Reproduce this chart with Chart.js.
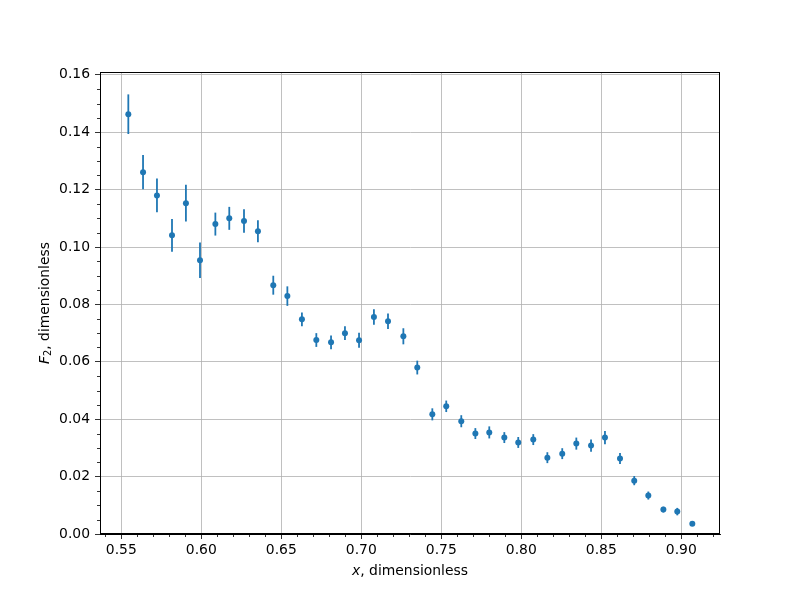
<!DOCTYPE html>
<html>
<head>
<meta charset="utf-8">
<script src="https://cdn.jsdelivr.net/npm/chart.js@4.4.0/dist/chart.umd.min.js"></script>
<style>
  body { margin: 0; background: #fff; }
  canvas { display: block; }
</style>
</head>
<body>
<canvas id="myChart" width="800" height="600"></canvas>
<script>
// x values of the measured points
let xVals = [
    0.5544, 0.5636, 0.5723, 0.5817, 0.5904, 0.5992, 0.6088, 0.6175, 0.6267, 0.6354,
    0.6450, 0.6538, 0.6629, 0.6719, 0.6811, 0.6898, 0.6986, 0.7079, 0.7167, 0.7263,
    0.7350, 0.7444, 0.7531, 0.7625, 0.7713, 0.7800, 0.7894, 0.7981, 0.8075, 0.8163,
    0.8256, 0.8344, 0.8436, 0.8523, 0.8617, 0.8706, 0.8794, 0.8888, 0.8975, 0.9069
];

// F2 values
let f2Vals = [
    0.1463, 0.1261, 0.1180, 0.1041, 0.1153, 0.0954, 0.1080, 0.1100, 0.1091, 0.1055,
    0.0867, 0.0829, 0.0748, 0.0676, 0.0668, 0.0700, 0.0675, 0.0756, 0.0741, 0.0689,
    0.0580, 0.0417, 0.0445, 0.0393, 0.0350, 0.0354, 0.0336, 0.0319, 0.0329, 0.0266,
    0.0280, 0.0315, 0.0308, 0.0336, 0.0263, 0.0186, 0.0134, 0.0085, 0.0078, 0.0036
];

// errors on F2
let f2Errs = [
    0.0069, 0.0060, 0.0059, 0.0057, 0.0064, 0.0062, 0.0040, 0.0040, 0.0041, 0.0038,
    0.0033, 0.0034, 0.0024, 0.0024, 0.0024, 0.0024, 0.0026, 0.0027, 0.0027, 0.0028,
    0.0024, 0.0021, 0.0020, 0.0021, 0.0019, 0.0021, 0.0019, 0.0019, 0.0019, 0.0019,
    0.0019, 0.0021, 0.0021, 0.0023, 0.0019, 0.0016, 0.0014, 0.0010, 0.0013, 0.0005
];

const blue = '#1f77b4';
const fs = 13.9;
const tickFont = { family: 'DejaVu Sans', size: fs };

const isMajorX = v => Math.abs(v * 20 - Math.round(v * 20)) < 1e-6;
const isMajorY = v => Math.abs(v * 50 - Math.round(v * 50)) < 1e-6;

const points = xVals.map((x, i) => ({ x: x, y: f2Vals[i] }));

// error bars, minor ticks, frame and axis titles
const extras = {
    id: 'extras',
    beforeDatasetsDraw(chart) {
        const ctx = chart.ctx;
        const xs = chart.scales.x, ys = chart.scales.y;
        ctx.save();
        ctx.strokeStyle = blue;
        ctx.lineWidth = 1.8;
        for (let i = 0; i < xVals.length; i++) {
            const px = xs.getPixelForValue(xVals[i]);
            ctx.beginPath();
            ctx.moveTo(px, ys.getPixelForValue(f2Vals[i] - f2Errs[i]));
            ctx.lineTo(px, ys.getPixelForValue(f2Vals[i] + f2Errs[i]));
            ctx.stroke();
        }
        ctx.restore();
    },
    afterDraw(chart) {
        const ctx = chart.ctx;
        const a = chart.chartArea;
        const xs = chart.scales.x, ys = chart.scales.y;
        ctx.save();
        ctx.strokeStyle = '#000';
        ctx.lineWidth = 0.8;
        xs.ticks.forEach(t => {
            if (!isMajorX(t.value)) {
                const px = Math.round(xs.getPixelForValue(t.value)) + 0.5;
                ctx.beginPath();
                ctx.moveTo(px, a.bottom);
                ctx.lineTo(px, a.bottom + 3);
                ctx.stroke();
            }
        });
        ys.ticks.forEach(t => {
            if (!isMajorY(t.value)) {
                const py = Math.round(ys.getPixelForValue(t.value)) + 0.5;
                ctx.beginPath();
                ctx.moveTo(a.left, py);
                ctx.lineTo(a.left - 3, py);
                ctx.stroke();
            }
        });
        ctx.lineWidth = 1;
        ctx.strokeRect(a.left + 0.5, a.top + 0.5, a.right - a.left - 1, a.bottom - a.top - 1);

        // x title: italic x + ", dimensionless"
        ctx.fillStyle = '#000';
        ctx.textBaseline = 'middle';
        const cx = (a.left + a.right) / 2;
        const it = 'italic ' + fs + 'px "DejaVu Sans"';
        const rg = fs + 'px "DejaVu Sans"';
        const sub = (fs * 0.7) + 'px "DejaVu Sans"';
        ctx.font = it;
        const w1 = ctx.measureText('x').width;
        ctx.font = rg;
        const w2 = ctx.measureText(', dimensionless').width;
        let sx = cx - (w1 + w2) / 2;
        ctx.textAlign = 'left';
        ctx.font = it;
        ctx.fillText('x', sx, 571);
        ctx.font = rg;
        ctx.fillText(', dimensionless', sx + w1, 571);

        // y title: italic F, subscript 2, ", dimensionless"
        ctx.translate(45, (a.top + a.bottom) / 2);
        ctx.rotate(-Math.PI / 2);
        ctx.font = it;
        const f1 = ctx.measureText('F').width;
        ctx.font = sub;
        const f2 = ctx.measureText('2').width;
        ctx.font = rg;
        const f3 = ctx.measureText(', dimensionless').width;
        let sy = -(f1 + f2 + f3) / 2;
        ctx.font = it;
        ctx.fillText('F', sy, 0);
        ctx.font = sub;
        ctx.fillText('2', sy + f1, 3.5);
        ctx.font = rg;
        ctx.fillText(', dimensionless', sy + f1 + f2, 0);
        ctx.restore();
    }
};

const config = {
    type: 'scatter',
    data: {
        datasets: [{
            data: points,
            backgroundColor: blue,
            borderColor: blue,
            borderWidth: 0,
            pointRadius: 3,
            pointHoverRadius: 3,
            showLine: false
        }]
    },
    options: {
        responsive: false,
        animation: false,
        layout: { padding: { top: 72, right: 80, left: 0, bottom: 0 } },
        plugins: { legend: { display: false }, tooltip: { enabled: false } },
        scales: {
            x: {
                type: 'linear',
                min: 0.5367,
                max: 0.9242,
                afterFit: s => { s.height = 66; },
                border: { color: '#000', width: 1 },
                grid: {
                    color: c => (c.tick && isMajorX(c.tick.value)) ? '#b0b0b0' : 'rgba(0,0,0,0)',
                    tickColor: c => (c.tick && isMajorX(c.tick.value)) ? '#000' : 'rgba(0,0,0,0)',
                    lineWidth: 0.8,
                    tickLength: 5
                },
                ticks: {
                    stepSize: 0.01,
                    includeBounds: false,
                    autoSkip: false,
                    maxRotation: 0,
                    padding: 3,
                    color: '#000',
                    font: tickFont,
                    callback: v => isMajorX(v) ? v.toFixed(2) : ''
                }
            },
            y: {
                type: 'linear',
                min: 0,
                max: 0.161,
                afterFit: s => { s.width = 100; },
                border: { color: '#000', width: 1 },
                grid: {
                    color: c => (c.tick && isMajorY(c.tick.value)) ? '#b0b0b0' : 'rgba(0,0,0,0)',
                    tickColor: c => (c.tick && isMajorY(c.tick.value)) ? '#000' : 'rgba(0,0,0,0)',
                    lineWidth: 0.8,
                    tickLength: 5
                },
                ticks: {
                    stepSize: 0.005,
                    includeBounds: false,
                    autoSkip: false,
                    padding: 5,
                    color: '#000',
                    font: tickFont,
                    callback: v => isMajorY(v) ? v.toFixed(2) : ''
                }
            }
        }
    },
    plugins: [extras]
};

var myChart = new Chart(document.getElementById('myChart'), config);
</script>
</body>
</html>
